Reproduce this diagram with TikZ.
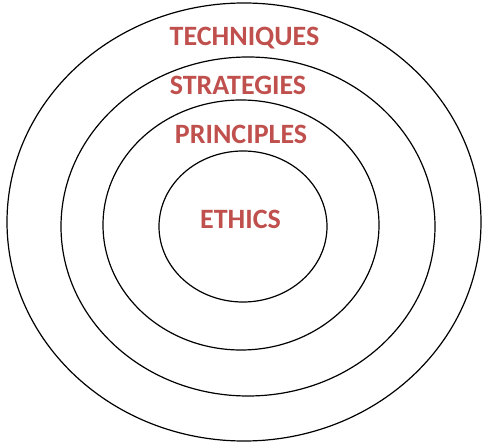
\documentclass[tikz,border=0pt]{standalone}
\usepackage{fontspec}
\setmainfont{Carlito}
\usetikzlibrary{shapes.geometric}
\definecolor{ringred}{RGB}{192,80,77}
\tikzset{
  ring/.style={ellipse, draw=black, line width=1.2pt, inner sep=0pt},
  lbl/.style={text=ringred, font=\fontsize{28}{30}\selectfont\bfseries, anchor=base, inner sep=0pt}
}
\begin{document}
\begin{tikzpicture}[x=1pt,y=-1pt]
\useasboundingbox (0,0) rectangle (482,443);
\node[ring, minimum width=474pt, minimum height=438pt] (outer) at (244,222) {};
\node[ring, minimum width=374pt, minimum height=339pt] (second) at (248,226.5) {};
\node[ring, minimum width=276pt, minimum height=250pt] (third) at (241,225) {};
\node[ring, minimum width=168pt, minimum height=151pt] (inner) at (243,226.5) {};
\node[lbl] (tech) at (244.5,46) {TECHNIQUES};
\node[lbl] (strat) at (238,95) {STRATEGIES};
\node[lbl] (princ) at (241,144) {PRINCIPLES};
\node[lbl] (eth) at (240.5,229) {ETHICS};
\end{tikzpicture}
\end{document}
